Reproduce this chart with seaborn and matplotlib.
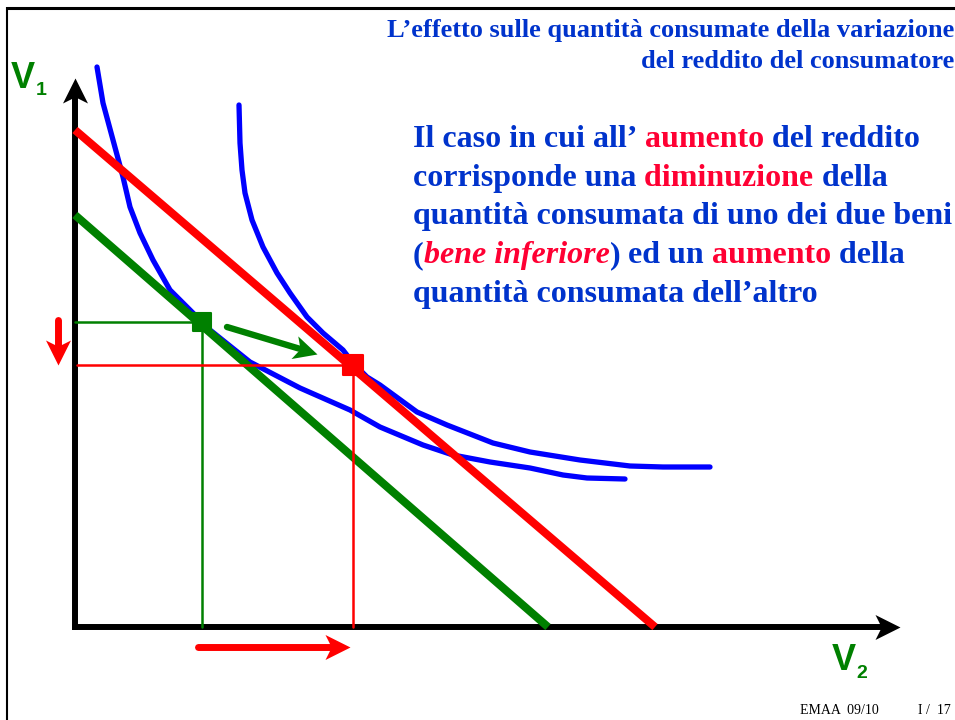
import numpy as np
import pandas as pd
import matplotlib
matplotlib.use("Agg")
import matplotlib.pyplot as plt
import seaborn as sns
from matplotlib.markers import MarkerStyle
from matplotlib.path import Path
from matplotlib.transforms import Affine2D

# --- dati del diagramma (origine = incrocio degli assi, unità ~ pixel) ---
# intercette dei vincoli di bilancio (V2, V1)
bilancio_iniziale = [473, 412]   # verde, reddito iniziale
bilancio_finale = [580, 497]     # rosso, reddito aumentato

# curva di indifferenza bassa (tangente al vincolo verde)
curva1_v2 = [22, 28, 38, 48, 55, 65, 78, 95, 112, 127, 135, 175, 225, 275, 305, 348,
             378, 415, 455, 488, 512, 550]
curva1_v1 = [560, 524, 487, 450, 420, 394, 367, 337, 320, 305, 297, 265, 239, 217, 200,
             182, 172, 165, 159, 152, 149, 148]

# curva di indifferenza alta (tangente al vincolo rosso)
curva2_v2 = [164, 165, 167, 170, 177, 188, 202, 215, 232, 248, 268, 278, 292, 305, 342,
             372, 418, 455, 505, 555, 588, 635]
curva2_v1 = [522, 484, 457, 434, 407, 380, 354, 334, 310, 294, 277, 264, 250, 242, 215,
             202, 184, 175, 167, 161, 160, 160]

# panieri ottimi: [iniziale, finale]
ottimo_v2 = [127, 278]
ottimo_v1 = [305, 262]

# lunghezza degli assi
asse_v2 = 825
asse_v1 = 549

# freccia verde tra i due ottimi (inizio, punta)
freccia_verde = [(152, 300), (242, 273)]

BLU = "#0033CC"
ROSSO_T = "#FF0033"
ROSSO = "#FF0000"
VERDE = "#008000"

sns.set_theme(style="white")
plt.rcParams["font.family"] = ["Liberation Serif", "DejaVu Serif"]

W, H = 955, 720
fig = plt.figure(figsize=(W / 100, H / 100), dpi=100)
ax = fig.add_axes([0, 0, 1, 1])
ax.set_xlim(-75, W - 75)
ax.set_ylim(627 - H, 627)
ax.axis("off")

# cornice della slide
ax.plot([-68, W], [619, 619], color="black", lw=2.2, solid_capstyle="butt")
ax.plot([-68, -68], [627 - H, 620], color="black", lw=1.5, solid_capstyle="butt")

# punta di freccia a "stealth"
punta = Path([(0, 0), (-1, 0.5), (-0.75, 0), (-1, -0.5), (0, 0)],
             [Path.MOVETO, Path.LINETO, Path.LINETO, Path.LINETO, Path.CLOSEPOLY])


def freccia(x0, y0, x1, y1, colore, lw, ms, cap="round"):
    ang = np.degrees(np.arctan2(y1 - y0, x1 - x0))
    lung_testa = 0.5 * ms / 0.72
    d = np.hypot(x1 - x0, y1 - y0)
    fx = x1 - (x1 - x0) / d * lung_testa * 0.8
    fy = y1 - (y1 - y0) / d * lung_testa * 0.8
    ax.plot([x0, fx], [y0, fy], color=colore, lw=lw, solid_capstyle=cap)
    m = MarkerStyle(punta, transform=Affine2D().rotate_deg(ang))
    ax.plot([x1], [y1], marker=m, markersize=ms, color=colore, markeredgewidth=0,
            linestyle="none")


# assi
freccia(0, 0, asse_v2, 0, "black", 4.3, 36, cap="projecting")
freccia(0, 0, 0, asse_v1, "black", 4.3, 36, cap="projecting")

# curve di indifferenza
df1 = pd.DataFrame({"V2": curva1_v2, "V1": curva1_v1})
df2 = pd.DataFrame({"V2": curva2_v2, "V1": curva2_v1})
for df in (df1, df2):
    sns.lineplot(data=df, x="V2", y="V1", sort=False, estimator=None, color="#0000FF",
                 lw=3.8, ax=ax, solid_capstyle="round", solid_joinstyle="round")

# vincoli di bilancio
for (a, b), col in ((bilancio_finale, ROSSO), (bilancio_iniziale, VERDE)):
    sns.lineplot(x=[0, a], y=[b, 0], color=col, lw=5.8, ax=ax, solid_capstyle="butt")

# linee di riferimento verso gli assi
ax.plot([0, ottimo_v2[0]], [ottimo_v1[0]] * 2, color=VERDE, lw=1.8)
ax.plot([ottimo_v2[0]] * 2, [0, ottimo_v1[0]], color=VERDE, lw=1.8)
ax.plot([2, ottimo_v2[1]], [ottimo_v1[1]] * 2, color=ROSSO, lw=1.8)
ax.plot([ottimo_v2[1]] * 2, [0, ottimo_v1[1]], color=ROSSO, lw=1.8)

# panieri ottimi
sns.scatterplot(x=ottimo_v2[:1], y=ottimo_v1[:1], marker="s", s=180, color=VERDE,
                edgecolor=VERDE, linewidth=1.5, ax=ax, zorder=5)
sns.scatterplot(x=ottimo_v2[1:], y=ottimo_v1[1:], marker="s", s=190, color=ROSSO,
                edgecolor=ROSSO, linewidth=1.5, ax=ax, zorder=5)

# frecce di variazione
freccia(-17, ottimo_v1[0] + 2, -17, ottimo_v1[1], ROSSO, 5.0, 36)
freccia(ottimo_v2[0] - 4, -20, ottimo_v2[1] - 3, -20, ROSSO, 5.0, 36)
(gx0, gy0), (gx1, gy1) = freccia_verde
freccia(gx0, gy0, gx1, gy1, VERDE, 4.6, 34)


def fpos(x, y):
    return x / W, 1 - y / H


# titolo
fig.text(*fpos(954, 37), "L’effetto sulle quantità consumate della variazione",
         ha="right", va="baseline", color=BLU, fontsize=19, fontweight="bold")
fig.text(*fpos(954, 68), "del reddito del consumatore",
         ha="right", va="baseline", color=BLU, fontsize=19, fontweight="bold")

# testo esplicativo a colori
righe = [
    [("Il caso in cui all’", BLU, "normal"), (" aumento", ROSSO_T, "normal"),
     (" del reddito", BLU, "normal")],
    [("corrisponde una", BLU, "normal"), (" diminuzione", ROSSO_T, "normal"),
     (" della", BLU, "normal")],
    [("quantità consumata di uno dei due beni", BLU, "normal")],
    [("(", BLU, "normal"), ("bene inferiore", ROSSO_T, "italic"), (")", BLU, "normal"),
     (" ed un", BLU, "normal"), (" aumento", ROSSO_T, "normal"), (" della", BLU, "normal")],
    [("quantità consumata dell’altro", BLU, "normal")],
]
base = [147, 186, 224, 263, 302]
for riga, yb in zip(righe, base):
    prec = None
    for testo, col, stile in riga:
        if prec is None:
            prec = fig.text(*fpos(413, yb), testo, color=col, fontstyle=stile,
                            fontsize=23, fontweight="bold", va="baseline")
        else:
            prec = ax.annotate(testo, xy=(1, 0), xycoords=prec, va="bottom",
                               color=col, fontstyle=stile, fontsize=23,
                               fontweight="bold")

# etichette degli assi
sans = ["Liberation Sans", "DejaVu Sans"]
fig.text(*fpos(11, 88), "V", color=VERDE, fontsize=26, fontweight="bold",
         family=sans, va="baseline")
fig.text(*fpos(36, 95), "1", color=VERDE, fontsize=14, fontweight="bold",
         family=sans, va="baseline")
fig.text(*fpos(832, 670), "V", color=VERDE, fontsize=26, fontweight="bold",
         family=sans, va="baseline")
fig.text(*fpos(856, 678), "2", color=VERDE, fontsize=14, fontweight="bold",
         family=sans, va="baseline")

# piè di pagina
fig.text(*fpos(800, 714), "EMAA  09/10", fontsize=10, color="black", va="baseline")
fig.text(*fpos(918, 714), "I /  17", fontsize=10, color="black", va="baseline")

fig.savefig("out.png", dpi=100)
